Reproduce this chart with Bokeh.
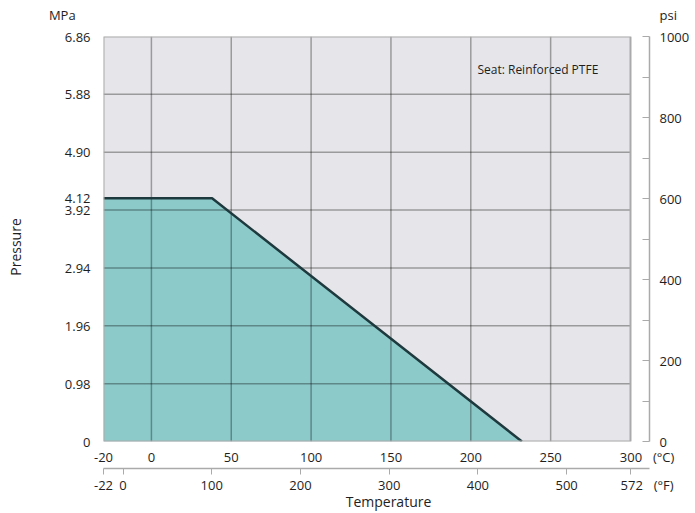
from bokeh.plotting import figure
from bokeh.models import (LinearAxis, Range1d, FixedTicker, Label)
from bokeh.embed import file_html
from bokeh.resources import INLINE

# ---- data ----
temp_c = [-30, 38, 232]            # rating curve, deg C
pressure_mpa = [4.12, 4.12, 0.0]   # MPa
c_ticks = [-30, 0, 50, 100, 150, 200, 250, 300]
c_labels = ["-20", "0", "50", "100", "150", "200", "250", "300"]
f_ticks = [-22, 0, 100, 200, 300, 400, 500, 572]
f_labels = ["-22", "0", "100", "200", "300", "400", "500", "572"]
mpa_ticks = [0, 0.98, 1.96, 2.94, 3.92, 4.12, 4.90, 5.88, 6.86]
mpa_labels = ["0", "0.98", "1.96", "2.94", "3.92", "4.12", "4.90", "5.88", "6.86"]
mpa_grid = [0.98, 1.96, 2.94, 3.92, 4.90, 5.88]
c_grid = [0, 50, 100, 150, 200, 250]
psi_major = [0, 200, 400, 600, 800, 1000]
psi_minor = [100, 300, 500, 700, 900]
unit_mpa, unit_psi, unit_c, unit_f = "MPa", "psi", "(°C)", "(°F)"

c_min, c_box, c_max = -30, 300, 311.9
y_max = 6.86
W, H = 695, 513

FONT = "Open Sans"
TXT = "#1e1e1e"
FS = "\u2007"  # figure space used for padding of unit texts

p = figure(width=W, height=H, output_backend="svg", toolbar_location=None,
           x_axis_type=None, y_axis_type=None,
           x_range=Range1d(c_min, c_max), y_range=Range1d(0, y_max),
           min_border_left=103, min_border_right=46, min_border_top=36,
           min_border_bottom=71, outline_line_color=None,
           background_fill_color="white")
p.grid.visible = False
p.extra_x_ranges = {"F": Range1d(c_min * 1.8 + 32, c_max * 1.8 + 32)}
p.extra_y_ranges = {"psi": Range1d(0, 1000)}

# plot area background
p.quad(left=[c_min], right=[c_box], bottom=[0], top=[y_max],
       fill_color="#e6e6ea", line_color=None)
# rated area
p.varea(x=temp_c, y1=[0] * len(temp_c), y2=pressure_mpa, fill_color="#8ccaca")
# grid lines
p.segment(x0=[c_min] * len(mpa_grid), x1=[c_box] * len(mpa_grid), y0=mpa_grid, y1=mpa_grid,
          line_color="black", line_alpha=0.33, line_width=1.5)
p.segment(x0=c_grid, x1=c_grid, y0=[0] * len(c_grid), y1=[y_max] * len(c_grid),
          line_color="black", line_alpha=0.33, line_width=1.5)
# curve
p.line(temp_c, pressure_mpa, line_color="#1e3a3e", line_width=2.5)
# border
p.quad(left=[c_min], right=[c_box], bottom=[0], top=[y_max],
       fill_color=None, line_color="#aaaaaa", line_width=2)

def style(ax, size="13px"):
    ax.major_label_text_font = FONT
    ax.major_label_text_font_size = size
    ax.major_label_text_color = TXT
    ax.axis_label_text_font = FONT
    ax.axis_label_text_font_size = "14px"
    ax.axis_label_text_font_style = "normal"
    ax.axis_label_text_color = TXT

# left MPa axis (unit written above the top tick label)
y_over = {t: l for t, l in zip(mpa_ticks, mpa_labels)}
y_over[mpa_ticks[-1]] = unit_mpa + FS + FS + "\n" + mpa_labels[-1] + "\n" + FS
ay = LinearAxis(ticker=FixedTicker(ticks=mpa_ticks), major_label_overrides=y_over,
                axis_line_color=None, major_tick_line_color=None, minor_tick_line_color=None,
                major_tick_out=0, major_tick_in=0,
                major_label_standoff=13, axis_label="Pressure" + FS * 2,
                axis_label_standoff=21)
style(ay)
p.add_layout(ay, "left")

# right psi axis
psi_over = {t: str(t) for t in psi_major}
psi_over[psi_major[-1]] = unit_psi + "\n" + str(psi_major[-1]) + "\n" + FS
ap = LinearAxis(y_range_name="psi", ticker=FixedTicker(ticks=psi_major, minor_ticks=psi_minor),
                major_label_overrides=psi_over,
                axis_line_color="#aaaaaa", axis_line_width=1.5,
                major_tick_line_color="#aaaaaa", major_tick_in=7, major_tick_out=0,
                minor_tick_line_color="#aaaaaa", minor_tick_in=7, minor_tick_out=0,
                major_label_standoff=10)
style(ap)
p.add_layout(ap, "right")

pad = FS * 2 + " " + FS * 2
# Celsius axis
c_over = {t: l for t, l in zip(c_ticks, c_labels)}
c_over[c_ticks[-1]] = pad + c_labels[-1] + FS + " " + unit_c
ac = LinearAxis(ticker=FixedTicker(ticks=c_ticks), major_label_overrides=c_over,
                axis_line_color=None, major_tick_line_color=None, minor_tick_line_color=None,
                major_tick_out=0, major_tick_in=0, major_label_standoff=6)
style(ac)
p.add_layout(ac, "below")

# Fahrenheit axis
f_over = {t: l for t, l in zip(f_ticks, f_labels)}
f_over[f_ticks[-1]] = pad + f_labels[-1] + FS + " " + unit_f
af = LinearAxis(x_range_name="F", ticker=FixedTicker(ticks=f_ticks), major_label_overrides=f_over,
                axis_line_color="#aaaaaa", axis_line_width=1.5,
                major_tick_line_color="#aaaaaa", major_tick_in=0, major_tick_out=6,
                minor_tick_line_color=None, major_label_standoff=1,
                axis_label=FS * 3 + "Temperature", axis_label_standoff=-5)
style(af)
p.add_layout(af, "below")

p.add_layout(Label(x=242, y=6.3, text="Seat: Reinforced PTFE",
                   text_font=FONT, text_font_size="12px", text_color=TXT,
                   text_align="center", text_baseline="middle"))

open("out.html", "w").write(file_html(p, INLINE))
